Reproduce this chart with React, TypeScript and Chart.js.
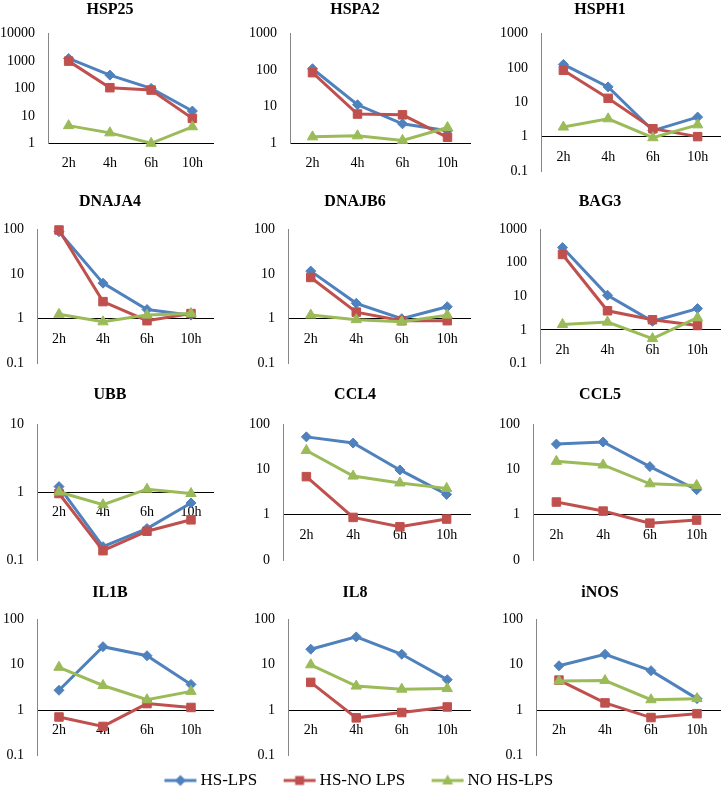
import React, { useEffect, useRef } from "react";
import { Chart, registerables } from "chart.js";

Chart.register(...registerables);

// ---------------- DATA ----------------
const TIME_LABELS = ["2h", "4h", "6h", "10h"];
const SERIES_NAMES = ["HS-LPS", "HS-NO LPS", "NO HS-LPS"];
const GENE_NAMES = ["HSP25", "HSPA2", "HSPH1", "DNAJA4", "DNAJB6", "BAG3", "UBB", "CCL4", "CCL5", "IL1B", "IL8", "iNOS"];

// each gene: [HS-LPS, HS-NO LPS, NO HS-LPS] at 2h, 4h, 6h, 10h
const HSP25 = [
  [1230, 305, 100, 15],
  [985, 106, 87, 8.1],
  [4.4, 2.4, 1.0, 4.0],
];
const HSPA2 = [
  [109, 11.3, 3.4, 2.2],
  [85, 6.3, 6.0, 1.46],
  [1.5, 1.6, 1.2, 2.7],
];
const HSPH1 = [
  [126, 28, 1.5, 3.7],
  [85, 13, 1.7, 1.0],
  [1.9, 3.3, 0.93, 2.2],
];
const DNAJA4 = [
  [87, 6.2, 1.6, 1.2],
  [95, 2.4, 0.9, 1.3],
  [1.25, 0.85, 1.2, 1.3],
];
const DNAJB6 = [
  [11.5, 2.2, 1.0, 1.85],
  [8.3, 1.4, 0.9, 0.9],
  [1.2, 0.95, 0.85, 1.2],
];
const BAG3 = [
  [280, 10.7, 1.8, 4.3],
  [175, 3.7, 2.0, 1.35],
  [1.45, 1.7, 0.55, 2.3],
];
const UBB = [
  [1.2, 0.157, 0.29, 0.69],
  [0.95, 0.137, 0.265, 0.39],
  [1.0, 0.65, 1.1, 0.95],
];
const CCL4 = [
  [52, 38, 9.7, 2.8],
  [6.9, 0.87, 0.54, 0.8],
  [26, 7.1, 5.0, 3.8],
];
const CCL5 = [
  [36, 40, 11.5, 3.55],
  [1.9, 1.2, 0.65, 0.76],
  [15, 12.5, 4.8, 4.4],
];
const IL1B = [
  [2.75, 25, 15.8, 3.7],
  [0.71, 0.44, 1.4, 1.15],
  [8.8, 3.5, 1.7, 2.6],
];
const IL8 = [
  [22, 41, 17, 4.7],
  [4.1, 0.68, 0.89, 1.18],
  [10, 3.4, 2.9, 3.0],
];
const INOS = [
  [9.5, 17, 7.4, 1.8],
  [4.6, 1.45, 0.69, 0.84],
  [4.4, 4.5, 1.7, 1.8],
];
const GENE_VALUES = [HSP25, HSPA2, HSPH1, DNAJA4, DNAJB6, BAG3, UBB, CCL4, CCL5, IL1B, IL8, INOS];

// y-axis decades (tick values) and their labels
const Y_1_10000 = [1, 10, 100, 1000, 10000];
const Y_1_1000 = [1, 10, 100, 1000];
const Y_01_1000 = [0.1, 1, 10, 100, 1000];
const Y_01_100 = [0.1, 1, 10, 100];
const Y_01_10 = [0.1, 1, 10];
const L_1_10000 = ["1", "10", "100", "1000", "10000"];
const L_1_1000 = ["1", "10", "100", "1000"];
const L_01_1000 = ["0.1", "1", "10", "100", "1000"];
const L_01_100 = ["0.1", "1", "10", "100"];
const L_0_100 = ["0", "1", "10", "100"];
const L_01_10 = ["0.1", "1", "10"];
const GENE_Y_TICKS = [Y_1_10000, Y_1_1000, Y_01_1000, Y_01_100, Y_01_100, Y_01_1000, Y_01_10, Y_01_100, Y_01_100, Y_01_100, Y_01_100, Y_01_100];
const GENE_Y_LABELS = [L_1_10000, L_1_1000, L_01_1000, L_01_100, L_01_100, L_01_1000, L_01_10, L_0_100, L_0_100, L_01_100, L_01_100, L_01_100];

// ---------------- STYLE / LAYOUT ----------------
const SERIES_COLORS = ["#4F81BD", "#C0504D", "#9BBB59"];
const SERIES_MARKERS = ["rectRot", "rect", "triangle"];
const MARKER_RADIUS = [5, 6, 6];
const FONT_FAMILY = "'Liberation Serif', 'Times New Roman', Times, serif";

const COL_LEFT = [0, 240, 480];
const COL_WIDTH = [220, 240, 258];
const COL_RIGHT_PAD = [0, 10, 18];
const ROW_TITLE_Y = [9.5, 202, 395, 592.5];
const ROW_TOP = [33.5, 229, 424, 619.3];
const PANEL_AXIS_X = [48, 290, 541, 37, 288, 540, 37, 283, 533, 37, 288, 536];
const PANEL_BOTTOM = [143.3, 143.3, 171, 363.5, 363.5, 363.5, 560, 560, 560, 755.7, 755.7, 755.7];

function Panel({ index }: { index: number }) {
  const ref = useRef<HTMLCanvasElement | null>(null);
  const row = Math.floor(index / 3);
  const col = index % 3;
  const left = COL_LEFT[col];
  const width = COL_WIDTH[col];
  const top = Math.round(ROW_TITLE_Y[row] - 9.6);
  const chartBottom = PANEL_BOTTOM[index];
  const height = Math.round(chartBottom + 34 - top);
  const padBottom = height - (chartBottom - top);
  const titleGap = ROW_TOP[row] - top - 19.2;
  const yWidth = PANEL_AXIS_X[index] - left;

  useEffect(() => {
    const ticks = GENE_Y_TICKS[index];
    const labels = GENE_Y_LABELS[index];
    const values = GENE_VALUES[index];
    const tickFont = { family: FONT_FAMILY, size: 14 };
    const chart = new Chart(ref.current as HTMLCanvasElement, {
      type: "line",
      data: {
        labels: TIME_LABELS,
        datasets: values.map((vals, i) => ({
          label: SERIES_NAMES[i],
          data: vals,
          borderColor: SERIES_COLORS[i],
          backgroundColor: SERIES_COLORS[i],
          borderWidth: 3,
          pointStyle: SERIES_MARKERS[i] as any,
          pointRadius: MARKER_RADIUS[i],
          pointBorderWidth: 1,
          pointBackgroundColor: SERIES_COLORS[i],
          pointBorderColor: SERIES_COLORS[i],
          tension: 0,
          fill: false,
          clip: false as any,
          order: 3 - i,
        })),
      },
      options: {
        animation: false,
        responsive: false,
        devicePixelRatio: 1,
        events: [],
        layout: { padding: { left: 0, top: 0, right: COL_RIGHT_PAD[col], bottom: padBottom } },
        plugins: {
          legend: { display: false },
          tooltip: { enabled: false },
          title: {
            display: true,
            text: GENE_NAMES[index],
            color: "#000",
            font: { family: FONT_FAMILY, size: 16, weight: "bold" },
            padding: { top: 0, bottom: titleGap },
          },
        },
        scales: {
          x: {
            type: "category",
            offset: true,
            position: { y: 1 } as any,
            grid: { display: false, drawTicks: false },
            border: { display: true, color: "#000", width: 1 },
            ticks: { font: tickFont, color: "#000", padding: 12, maxRotation: 0, autoSkip: false },
          },
          y: {
            type: "logarithmic",
            position: "left",
            min: ticks[0],
            max: ticks[ticks.length - 1],
            grid: { display: false, drawTicks: false },
            border: { display: true, color: "#868686", width: 1 },
            ticks: {
              font: tickFont,
              color: "#000",
              padding: 13,
              autoSkip: false,
              callback: (_v: any, i: number) => labels[i],
            },
            afterBuildTicks: (s: any) => {
              s.ticks = ticks.map((v) => ({ value: v }));
            },
            afterFit: (s: any) => {
              s.width = yWidth;
            },
          } as any,
        },
      },
    });
    return () => chart.destroy();
  }, []);

  return (
    <canvas
      ref={ref}
      width={width}
      height={height}
      style={{ position: "absolute", left, top, width, height }}
    />
  );
}

const LEGEND_BOX = 40;

function makeIcon(i: number): HTMLCanvasElement {
  const w = LEGEND_BOX + 13;
  const h = 16;
  const c = document.createElement("canvas");
  c.width = w;
  c.height = h;
  const ctx = c.getContext("2d") as CanvasRenderingContext2D;
  const color = SERIES_COLORS[i];
  const x0 = w - 34;
  const x1 = w - 2;
  const cy = h / 2;
  ctx.strokeStyle = color;
  ctx.fillStyle = color;
  ctx.lineWidth = 3;
  ctx.beginPath();
  ctx.moveTo(x0, cy);
  ctx.lineTo(x1, cy);
  ctx.stroke();
  const cx = (x0 + x1) / 2;
  ctx.beginPath();
  if (i === 0) {
    ctx.moveTo(cx - 5.5, cy);
    ctx.lineTo(cx, cy - 5.5);
    ctx.lineTo(cx + 5.5, cy);
    ctx.lineTo(cx, cy + 5.5);
  } else if (i === 1) {
    ctx.rect(cx - 4.5, cy - 4.5, 9, 9);
  } else {
    ctx.moveTo(cx, cy - 6);
    ctx.lineTo(cx + 5.5, cy + 4);
    ctx.lineTo(cx - 5.5, cy + 4);
  }
  ctx.closePath();
  ctx.fill();
  return c;
}

function Legend() {
  const ref = useRef<HTMLCanvasElement | null>(null);
  useEffect(() => {
    const icons = SERIES_NAMES.map((_, i) => makeIcon(i));
    const chart = new Chart(ref.current as HTMLCanvasElement, {
      type: "line",
      data: {
        labels: [],
        datasets: SERIES_NAMES.map((name, i) => ({
          label: name,
          data: [],
          borderColor: SERIES_COLORS[i],
          backgroundColor: SERIES_COLORS[i],
        })),
      },
      options: {
        animation: false,
        responsive: false,
        devicePixelRatio: 1,
        events: [],
        layout: { padding: { top: -4, left: 0, right: 0, bottom: 0 } },
        scales: { x: { display: false }, y: { display: false } },
        plugins: {
          tooltip: { enabled: false },
          legend: {
            display: true,
            position: "top",
            align: "center",
            labels: {
              usePointStyle: true,
              pointStyleWidth: LEGEND_BOX,
              padding: 14,
              color: "#000",
              font: { family: FONT_FAMILY, size: 17 },
              generateLabels: () =>
                SERIES_NAMES.map((text, i) => ({
                  text,
                  fillStyle: SERIES_COLORS[i],
                  strokeStyle: SERIES_COLORS[i],
                  lineWidth: 0,
                  pointStyle: icons[i] as any,
                  hidden: false,
                  datasetIndex: i,
                  fontColor: "#000",
                })),
            },
          },
        },
      },
    });
    return () => chart.destroy();
  }, []);
  return (
    <canvas
      ref={ref}
      width={721}
      height={70}
      style={{ position: "absolute", left: -8, top: 762, width: 721, height: 70 }}
    />
  );
}

export default function App() {
  return (
    <div
      style={{
        position: "absolute",
        left: 0,
        top: 0,
        width: 721,
        height: 795,
        overflow: "hidden",
        background: "#fff",
      }}
    >
      {GENE_NAMES.map((_, i) => (
        <Panel key={i} index={i} />
      ))}
      <Legend />
    </div>
  );
}
